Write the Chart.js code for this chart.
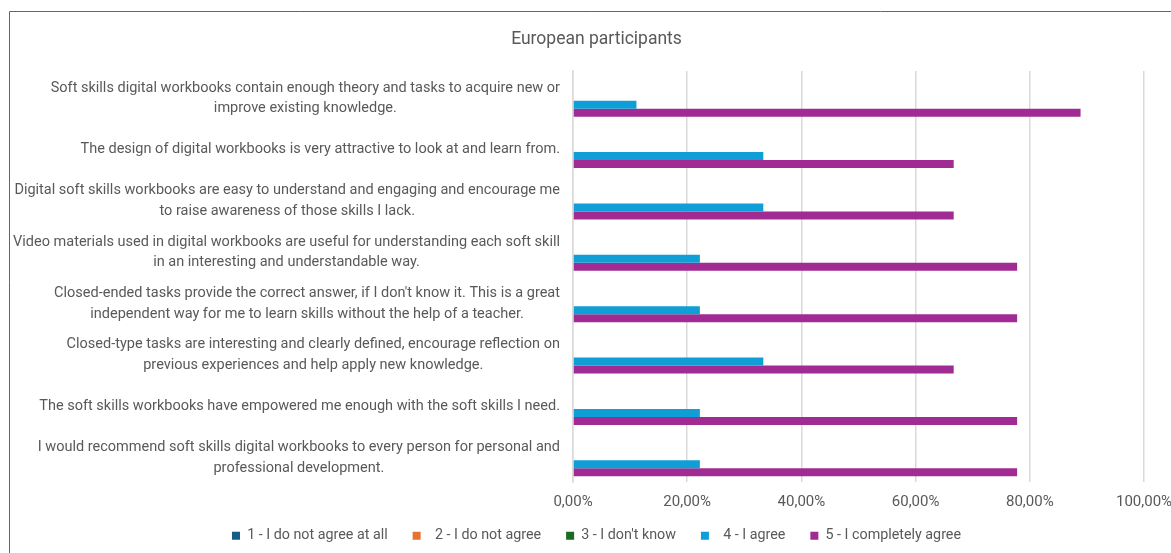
<!DOCTYPE html>
<html>
<head>
<meta charset="utf-8">
<title>European participants</title>
<script src="https://cdn.jsdelivr.net/npm/chart.js@4"></script>
<style>
  html, body { margin: 0; padding: 0; background: #ffffff; }
  #wrap { width: 1171px; height: 553px; }
</style>
</head>
<body>
<div id="wrap"><canvas id="chart" width="1171" height="553"></canvas></div>
<script>
// survey statements (one array of lines per statement)
const statements = [
  ['Soft skills digital workbooks contain enough theory and tasks to acquire new or', 'improve existing knowledge.'],
  ['The design of digital workbooks is very attractive to look at and learn from.'],
  ['Digital soft skills workbooks are easy to understand and engaging and encourage me', 'to raise awareness of those skills I lack.'],
  ['Video materials used in digital workbooks are useful for understanding each soft skill', 'in an interesting and understandable way.'],
  ["Closed-ended tasks provide the correct answer, if I don't know it. This is a great", 'independent way for me to learn skills without the help of a teacher.'],
  ['Closed-type tasks are interesting and clearly defined, encourage reflection on', 'previous experiences and help apply new knowledge.'],
  ['The soft skills workbooks have empowered me enough with the soft skills I need.'],
  ['I would recommend soft skills digital workbooks to every person for personal and', 'professional development.']
];

const answerNames = [
  '1 - I do not agree at all',
  '  2 - I do not agree',
  '3 - I don\'t know',
  '  4 - I agree',
  '5 - I completely agree'
];
const answerColors = ['#156082', '#E97132', '#196B24', '#0F9ED5', '#A02B93'];

// share of answers per statement
const notAgreeAtAll = [0, 0, 0, 0, 0, 0, 0, 0];
const notAgree      = [0, 0, 0, 0, 0, 0, 0, 0];
const dontKnow      = [0, 0, 0, 0, 0, 0, 0, 0];
const agree         = [0.1111, 0.3333, 0.3333, 0.2222, 0.2222, 0.3333, 0.2222, 0.2222];
const fullyAgree    = [0.8889, 0.6667, 0.6667, 0.7778, 0.7778, 0.6667, 0.7778, 0.7778];

const xTicks = [0, 0.2, 0.4, 0.6, 0.8, 1];

const textGrey = '#595959';
const gridGrey = '#d9d9d9';
const fontFamily = 'Roboto, sans-serif';
const padLeft = 49;
const padRight = 27;
const padBottom = 0;
const plotLeft = 573;
const plotBottom = 482;

const seriesValues = [notAgreeAtAll, notAgree, dontKnow, agree, fullyAgree];

const pct = v => (v * 100).toFixed(2).replace('.', ',') + '%';

// axis texts: statements (lines centred on each other, block against the axis)
// and the percentage ticks under the plot
const axisTexts = {
  id: 'axisTexts',
  afterDraw(chart) {
    const ctx = chart.ctx;
    const yScale = chart.scales.y;
    const xScale = chart.scales.x;
    const right = yScale.right - 13;
    const lineH = 20.5;
    ctx.save();
    ctx.fillStyle = textGrey;
    ctx.textAlign = 'center';
    ctx.textBaseline = 'middle';
    ctx.font = '14.5px ' + fontFamily;
    statements.forEach((lines, i) => {
      const y = yScale.getPixelForValue(i) + 1.5;
      const blockW = Math.max(...lines.map(l => ctx.measureText(l).width));
      const cx = right - blockW / 2;
      const top = y - (lines.length - 1) * lineH / 2;
      lines.forEach((l, k) => ctx.fillText(l, cx, top + k * lineH));
    });
    ctx.font = '15px ' + fontFamily;
    xTicks.forEach(v => {
      ctx.fillText(pct(v), xScale.getPixelForValue(v), xScale.top + 20.5);
    });
    ctx.restore();
  }
};

// outer frame of the chart
const chartFrame = {
  id: 'chartFrame',
  afterDraw(chart) {
    const ctx = chart.ctx;
    ctx.save();
    ctx.strokeStyle = '#3d7196';
    ctx.lineWidth = 1;
    ctx.beginPath();
    ctx.moveTo(9.5, 553);
    ctx.lineTo(9.5, 11.5);
    ctx.lineTo(1171, 11.5);
    ctx.stroke();
    ctx.restore();
  }
};

new Chart(document.getElementById('chart'), {
  type: 'bar',
  data: {
    labels: statements,
    datasets: answerNames.map((name, i) => ({
      label: name,
      data: seriesValues[i],
      backgroundColor: answerColors[i],
      borderWidth: 0,
      categoryPercentage: 0.78,
      barPercentage: 1
    }))
  },
  options: {
    indexAxis: 'y',
    responsive: false,
    animation: false,
    layout: { padding: { left: padLeft, right: padRight, top: 0, bottom: padBottom } },
    plugins: {
      title: {
        display: true,
        text: 'European participants',
        color: textGrey,
        font: { family: fontFamily, size: 17.5, weight: 'normal', lineHeight: 1.2 },
        padding: { top: 29, bottom: 21 }
      },
      legend: {
        position: 'bottom',
        labels: {
          boxWidth: 8,
          boxHeight: 8,
          padding: 25,
          color: textGrey,
          font: { family: fontFamily, size: 14.3 }
        }
      },
      tooltip: { enabled: false }
    },
    scales: {
      x: {
        min: 0,
        max: 1,
        afterBuildTicks(scale) {
          scale.ticks = xTicks.map(v => ({ value: v }));
        },
        afterFit(scale) {
          scale.height = 553 - plotBottom - scale.chart.legend.height - padBottom;
        },
        ticks: { display: false },
        grid: { color: gridGrey, lineWidth: 1.5, drawTicks: false },
        border: { display: false }
      },
      y: {
        afterFit(scale) { scale.width = plotLeft - padLeft; },
        ticks: { display: false },
        grid: { display: false },
        border: { display: true, color: gridGrey, width: 1.5 }
      }
    }
  },
  plugins: [axisTexts, chartFrame]
});
</script>
</body>
</html>
